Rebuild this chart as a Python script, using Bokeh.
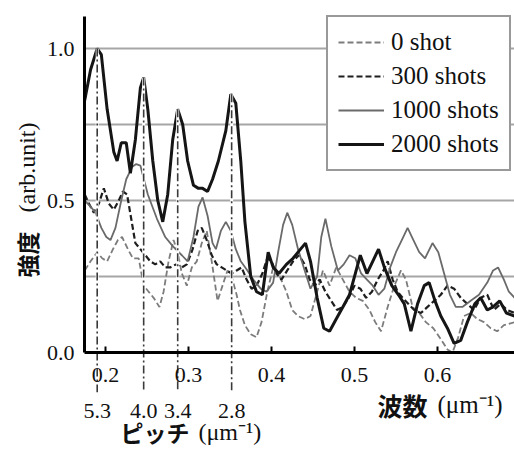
import math
from bokeh.plotting import figure
from bokeh.models import (Range1d, FixedTicker, Legend, LegendItem, Label,
                          ColumnDataSource, NumeralTickFormatter)
from bokeh.embed import file_html
from bokeh.resources import INLINE

# ---------------- data (wave number in um^-1, intensity arb. unit) ----------------
x_0 = [0.175, 0.182, 0.190, 0.196, 0.202, 0.209, 0.215, 0.220, 0.227, 0.233, 0.240, 0.246, 0.252, 0.258, 0.265,
       0.270, 0.276, 0.282, 0.287, 0.292, 0.298, 0.304, 0.310, 0.316, 0.322, 0.328, 0.335, 0.341, 0.347, 0.352,
       0.358, 0.362, 0.368, 0.375, 0.382, 0.388, 0.395, 0.402, 0.410, 0.418, 0.425, 0.432, 0.440, 0.447, 0.455,
       0.462, 0.470, 0.478, 0.486, 0.494, 0.502, 0.510, 0.518, 0.525, 0.532, 0.540, 0.548, 0.556, 0.562, 0.570,
       0.578, 0.586, 0.595, 0.605, 0.612, 0.618, 0.625, 0.632, 0.640, 0.648, 0.656, 0.664, 0.672, 0.680, 0.693]
y_0 = [0.27, 0.30, 0.33, 0.31, 0.30, 0.34, 0.37, 0.38, 0.34, 0.31, 0.31, 0.22, 0.20, 0.18, 0.15,
       0.20, 0.30, 0.37, 0.33, 0.26, 0.22, 0.28, 0.30, 0.36, 0.40, 0.30, 0.17, 0.22, 0.27, 0.25,
       0.19, 0.14, 0.09, 0.06, 0.05, 0.10, 0.20, 0.28, 0.25, 0.20, 0.14, 0.12, 0.11, 0.12, 0.20,
       0.27, 0.22, 0.28, 0.24, 0.20, 0.18, 0.17, 0.14, 0.10, 0.07, 0.15, 0.22, 0.27, 0.24, 0.15,
       0.13, 0.10, 0.08, 0.04, 0.01, 0.00, 0.05, 0.12, 0.13, 0.11, 0.10, 0.08, 0.07, 0.09, 0.10]

x_300 = [0.175, 0.180, 0.186, 0.192, 0.198, 0.204, 0.210, 0.216, 0.221, 0.226, 0.231, 0.236, 0.242, 0.248, 0.254,
         0.260, 0.266, 0.272, 0.278, 0.285, 0.292, 0.298, 0.305, 0.311, 0.316, 0.322, 0.328, 0.334, 0.340, 0.346,
         0.352, 0.358, 0.364, 0.370, 0.376, 0.382, 0.389, 0.395, 0.400, 0.406, 0.412, 0.419, 0.426, 0.433, 0.440,
         0.446, 0.452, 0.458, 0.465, 0.472, 0.479, 0.486, 0.493, 0.500, 0.507, 0.514, 0.521, 0.528, 0.535, 0.540,
         0.546, 0.552, 0.558, 0.565, 0.572, 0.580, 0.588, 0.596, 0.604, 0.612, 0.620, 0.628, 0.636, 0.644, 0.652,
         0.660, 0.668, 0.676, 0.684, 0.693]
y_300 = [0.52, 0.49, 0.46, 0.49, 0.54, 0.49, 0.47, 0.50, 0.53, 0.52, 0.44, 0.36, 0.34, 0.32, 0.30,
         0.29, 0.30, 0.28, 0.28, 0.29, 0.28, 0.29, 0.34, 0.40, 0.41, 0.37, 0.32, 0.29, 0.28, 0.27,
         0.26, 0.27, 0.28, 0.24, 0.21, 0.22, 0.26, 0.31, 0.30, 0.26, 0.24, 0.27, 0.30, 0.32, 0.29,
         0.24, 0.22, 0.24, 0.20, 0.17, 0.14, 0.15, 0.18, 0.22, 0.21, 0.18, 0.20, 0.24, 0.27, 0.30,
         0.24, 0.20, 0.18, 0.16, 0.14, 0.13, 0.15, 0.17, 0.19, 0.22, 0.21, 0.18, 0.16, 0.14, 0.18,
         0.19, 0.14, 0.16, 0.14, 0.13]

x_1000 = [0.175, 0.182, 0.188, 0.195, 0.201, 0.206, 0.212, 0.219, 0.225, 0.232, 0.237, 0.242, 0.251, 0.262, 0.272,
          0.281, 0.292, 0.299, 0.306, 0.312, 0.317, 0.323, 0.329, 0.333, 0.339, 0.345, 0.351, 0.357, 0.363, 0.371,
          0.378, 0.387, 0.394, 0.402, 0.408, 0.414, 0.419, 0.425, 0.432, 0.440, 0.447, 0.455, 0.460, 0.465, 0.472,
          0.480, 0.487, 0.494, 0.501, 0.508, 0.515, 0.522, 0.529, 0.536, 0.543, 0.550, 0.557, 0.564, 0.571, 0.578,
          0.585, 0.594, 0.601, 0.608, 0.615, 0.622, 0.630, 0.640, 0.650, 0.660, 0.667, 0.673, 0.680, 0.686, 0.693]
y_1000 = [0.50, 0.48, 0.46, 0.41, 0.38, 0.37, 0.41, 0.50, 0.57, 0.61, 0.62, 0.615, 0.52, 0.44, 0.38,
          0.35, 0.32, 0.30, 0.38, 0.48, 0.51, 0.45, 0.36, 0.34, 0.40, 0.43, 0.40, 0.34, 0.30, 0.27,
          0.24, 0.21, 0.20, 0.23, 0.33, 0.42, 0.46, 0.42, 0.34, 0.27, 0.21, 0.25, 0.38, 0.44, 0.35,
          0.27, 0.29, 0.32, 0.31, 0.26, 0.24, 0.22, 0.19, 0.21, 0.28, 0.33, 0.37, 0.41, 0.37, 0.33,
          0.31, 0.36, 0.33, 0.26, 0.19, 0.15, 0.15, 0.17, 0.19, 0.23, 0.27, 0.28, 0.24, 0.20, 0.18]

x_2000 = [0.175, 0.182, 0.190, 0.195, 0.202, 0.210, 0.214, 0.219, 0.225, 0.230, 0.236, 0.242, 0.246, 0.251, 0.257,
          0.263, 0.269, 0.275, 0.281, 0.287, 0.293, 0.299, 0.306, 0.312, 0.317, 0.323, 0.329, 0.336, 0.345, 0.351,
          0.357, 0.363, 0.368, 0.375, 0.382, 0.389, 0.396, 0.402, 0.409, 0.418, 0.426, 0.435, 0.441, 0.447, 0.455,
          0.463, 0.470, 0.478, 0.486, 0.494, 0.500, 0.507, 0.515, 0.522, 0.529, 0.536, 0.545, 0.553, 0.560, 0.568,
          0.576, 0.584, 0.590, 0.597, 0.604, 0.612, 0.620, 0.628, 0.636, 0.645, 0.652, 0.660, 0.667, 0.675, 0.683,
          0.693]
y_2000 = [0.83, 0.93, 1.00, 0.98, 0.80, 0.66, 0.63, 0.69, 0.69, 0.59, 0.70, 0.87, 0.905, 0.80, 0.63,
          0.50, 0.43, 0.52, 0.70, 0.80, 0.75, 0.63, 0.55, 0.54, 0.54, 0.53, 0.57, 0.63, 0.73, 0.85,
          0.82, 0.63, 0.43, 0.25, 0.20, 0.19, 0.33, 0.28, 0.26, 0.29, 0.31, 0.34, 0.36, 0.30, 0.18,
          0.08, 0.07, 0.11, 0.15, 0.19, 0.25, 0.32, 0.26, 0.30, 0.34, 0.28, 0.22, 0.19, 0.16, 0.07,
          0.16, 0.22, 0.23, 0.17, 0.12, 0.08, 0.03, 0.04, 0.10, 0.16, 0.18, 0.14, 0.15, 0.17, 0.13,
          0.12]

series_labels = ["0 shot", "300 shots", "1000 shots", "2000 shots"]

# peaks marked by dash-dot lines: wave number, pitch label, top of the marker line
peak_wavenumber = [0.190, 0.246, 0.287, 0.352]
peak_height = [1.00, 0.905, 0.80, 0.85]
pitch_labels = ["5.3", "4.0", "3.4", "2.8"]

x_ticks = [0.2, 0.3, 0.4, 0.5, 0.6]
y_ticks = [0.0, 0.5, 1.0]
grid_levels = [0.25, 0.5, 0.75, 1.0]

for a, b in [(x_0, y_0), (x_300, y_300), (x_1000, y_1000), (x_2000, y_2000)]:
    assert len(a) == len(b), (len(a), len(b))

# ---------------- layout constants ----------------
X_AXIS_POS = 0.1747          # wave number where the intensity axis stands
X_LO, X_HI = 0.0735, 0.6928  # visible wave-number range (incl. left margin for labels)
Y_LO, Y_HI = -0.319, 1.158   # visible intensity range (incl. space below for labels)
Y_AXIS_TOP = 1.105
MARK_BOTTOM = -0.131         # where the dash-dot marker lines end
PITCH_LABEL_Y = -0.192

SERIF = "Liberation Serif"
CJK = "Noto Sans CJK JP"
INK = "#111111"

p = figure(width=514, height=449, output_backend="svg", toolbar_location=None, title=None,
           x_range=Range1d(X_LO, X_HI), y_range=Range1d(Y_LO, Y_HI),
           min_border=0, min_border_left=0, min_border_right=0, min_border_top=0, min_border_bottom=0)
p.outline_line_color = None
p.background_fill_color = "white"
p.border_fill_color = "white"
p.xgrid.visible = False
p.ygrid.visible = False

# axes (drawn at fixed data locations, inside the frame)
for ax in (p.xaxis[0], p.yaxis[0]):
    ax.axis_line_color = "black"
    ax.axis_line_width = 3
    ax.minor_tick_line_color = None
    ax.major_label_text_font = SERIF
    ax.major_label_text_font_size = "22px"
    ax.major_label_text_color = INK
    ax.formatter = NumeralTickFormatter(format="0.0")

p.xaxis.fixed_location = 0.0
p.xaxis.bounds = (X_AXIS_POS, X_HI)
p.xaxis.ticker = FixedTicker(ticks=x_ticks)
p.xaxis.major_tick_in = 6
p.xaxis.major_tick_out = 0
p.xaxis.major_tick_line_width = 2
p.xaxis.major_label_standoff = 15

p.yaxis.fixed_location = X_AXIS_POS
p.yaxis.bounds = (0.0, Y_AXIS_TOP)
p.yaxis.ticker = FixedTicker(ticks=y_ticks)
p.yaxis.major_tick_line_color = None
p.yaxis.major_label_standoff = 4

# horizontal grid lines starting at the intensity axis
n = len(grid_levels)
p.segment(x0=[X_AXIS_POS] * n, y0=grid_levels, x1=[X_HI] * n, y1=grid_levels,
          line_color="#a6a6a6", line_width=2, level="underlay")

# series
r0 = p.line(x_0, y_0, line_color="#7c7c7c", line_width=1.8, line_dash="6 3")
r300 = p.line(x_300, y_300, line_color="#1e1e1e", line_width=2.2, line_dash="6 3")
r1000 = p.line(x_1000, y_1000, line_color="#6a6a6a", line_width=1.8)
r2000 = p.line(x_2000, y_2000, line_color="#151515", line_width=3)

# dash-dot marker lines from the peaks down to the pitch labels
pk = ColumnDataSource(dict(x=peak_wavenumber, top=peak_height, text=pitch_labels))
p.segment(x0="x", y0="top", x1="x", y1=MARK_BOTTOM, source=pk, line_color="white", line_width=3)
p.segment(x0="x", y0="top", x1="x", y1=MARK_BOTTOM, source=pk, line_color="#3a3a3a",
          line_width=1.6, line_dash="8 3 2 3")
p.text(x="x", y=PITCH_LABEL_Y, text="text", source=pk, text_font=SERIF, text_font_size="22px",
       text_align="center", text_baseline="middle", text_color=INK)

# axis titles (screen units: pixels from the bottom-left of the chart)
def lab(txt, x, y, font, size, angle=0.0, bold=False):
    p.add_layout(Label(x=x, y=y, x_units="screen", y_units="screen", text=txt, text_font=font,
                       text_font_size=size, angle=angle, text_align="left", text_baseline="middle",
                       text_color=INK, text_font_style="bold" if bold else "normal"))

lab("強度", 26, 172, CJK, "23px", angle=math.pi / 2, bold=True)
lab("(arb.unit)", 26, 237, SERIF, "24px", angle=math.pi / 2)
lab("波数", 377, 45, CJK, "25px", bold=True)
lab("(μm⁻¹)", 437, 45, SERIF, "25px")
lab("ピッチ", 120, 18, CJK, "23px", bold=True)
lab("(μm⁻¹)", 198, 18, SERIF, "24px")

legend = Legend(items=[LegendItem(label=series_labels[0], renderers=[r0]),
                       LegendItem(label=series_labels[1], renderers=[r300]),
                       LegendItem(label=series_labels[2], renderers=[r1000]),
                       LegendItem(label=series_labels[3], renderers=[r2000])],
                location=(326, 278))
legend.label_text_font = SERIF
legend.label_text_font_size = "25px"
legend.label_text_color = INK
legend.border_line_color = "#333333"
legend.border_line_width = 2
legend.background_fill_color = "white"
legend.background_fill_alpha = 1.0
legend.glyph_width = 46
legend.glyph_height = 30
legend.label_height = 30
legend.spacing = 4
legend.padding = 10
legend.margin = 0
legend.label_standoff = 7
p.add_layout(legend)

open("out.html", "w").write(file_html(p, INLINE))
